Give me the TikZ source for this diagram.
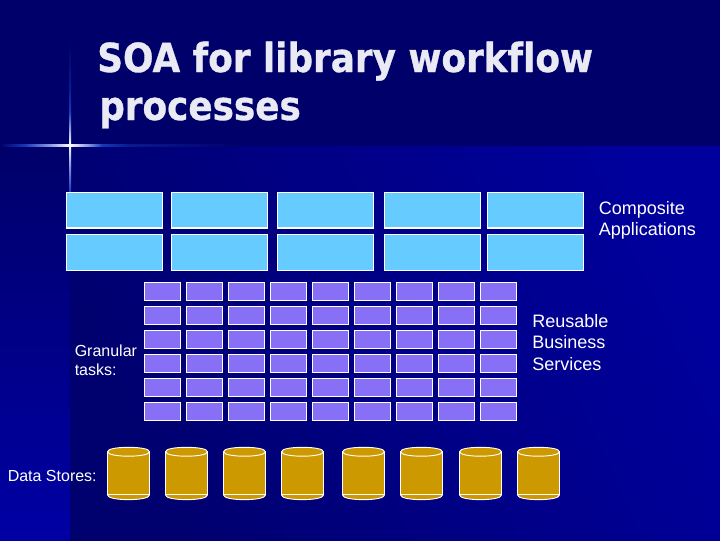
\documentclass[tikz,border=0pt]{standalone}
\usepackage{fontspec}
\setmainfont{Liberation Sans}
\newfontfamily\titlefont[FakeStretch=0.895,FakeBold=0.8,Ligatures=NoCommon]{DejaVu Sans Bold}
\definecolor{bandc}{HTML}{00006A}
\definecolor{brightc}{HTML}{00009C}
\definecolor{darkc}{HTML}{00006E}
\definecolor{stripc}{HTML}{0000A4}
\definecolor{lightbox}{HTML}{66CCFF}
\definecolor{purplebox}{HTML}{8870F6}
\definecolor{goldc}{HTML}{CC9900}
\definecolor{titlec}{HTML}{EAEAF4}
\definecolor{glowa}{HTML}{1838B8}
\definecolor{glowb}{HTML}{8898E4}
\definecolor{glowc}{HTML}{0A1A90}
\tikzset{
  x=0.75pt,y=-0.75pt,
  bluebox/.style={draw=white,line width=0.8pt,fill=lightbox,inner sep=0pt,outer sep=0pt,minimum width=71.8pt,minimum height=26.5pt},
  taskbox/.style={draw=white,line width=0.8pt,fill=purplebox,inner sep=0pt,outer sep=0pt,minimum width=26.5pt,minimum height=13pt},
  bodytext/.style={text=white,anchor=base west,inner sep=0pt,font=\fontsize{13.5pt}{16pt}\selectfont},
  smalltext/.style={text=white,anchor=base west,inner sep=0pt,font=\fontsize{12pt}{14pt}\selectfont},
  titletext/.style={text=titlec,anchor=base west,inner sep=0pt,font=\titlefont\fontsize{30pt}{36pt}\selectfont},
  storeline/.style={draw=white,line width=0.7pt},
}
\begin{document}
\begin{tikzpicture}
\useasboundingbox (0,0) rectangle (720,540);
% background
\fill[bandc] (0,0) rectangle (720,146);
\shade[top color=bandc,bottom color=stripc] (0,146) rectangle (70,540);
\shade[shading=axis,left color=darkc,right color=brightc,shading angle=115] (70,146) rectangle (720,540);
% star
\shade[left color=bandc,right color=glowa] (0,144) rectangle (25,146);
\shade[left color=glowa,right color=glowb] (25,144) rectangle (50,146);
\shade[left color=glowb,right color=white] (50,144) rectangle (70,146);
\shade[left color=white,right color=glowb] (70,144) rectangle (88,146);
\shade[left color=glowb,right color=glowa] (88,144) rectangle (102,146);
\shade[left color=glowa,right color=glowc] (102,144) rectangle (128,146);
\shade[left color=glowc,right color=bandc] (128,144) rectangle (240,146);
\shade[top color=bandc,bottom color=glowc] (69,40) rectangle (71,88);
\shade[top color=glowc,bottom color=glowa] (69,88) rectangle (71,112);
\shade[top color=glowa,bottom color=white] (69,112) rectangle (71,145);
\shade[top color=white,bottom color=glowb] (69,145) rectangle (71,165);
\shade[top color=glowb,bottom color=glowa] (69,165) rectangle (71,192);
% title
\node[titletext] (title1) at (97,72) {SOA for library workflow};
\node[titletext] (title2) at (99,120) {processes};
% composite applications
\foreach \cx [count=\c] in {114.5,219.5,325.5,432.5,535.5}
  \foreach \cy [count=\r] in {210.3,252.5}
    \node[bluebox] (app\r-\c) at (\cx,\cy) {};
% services
\foreach \c in {0,...,8}
  \foreach \r in {0,...,5}
    \node[taskbox] (task\r-\c) at ({162.5+42*\c},{291.5+24*\r}) {};
% data stores
\foreach \sx [count=\s] in {107,165,223,281,342,400,459,517} {
  \node[inner sep=0pt,outer sep=0pt,minimum width=32pt,minimum height=39pt] (store\s) at ({\sx+21.5},473.5) {};
  \begin{scope}[shift={(\sx,0)}]
    \path[fill=goldc,storeline] (0.5,451.7) .. controls (0.5,445.8) and (42.5,445.8) .. (42.5,451.7)
      -- (42.5,495) .. controls (42.5,501.2) and (0.5,501.2) .. (0.5,495) -- cycle;
    \draw[storeline] (0.5,451.7) .. controls (0.5,457.7) and (42.5,457.7) .. (42.5,451.7);
    \draw[storeline] (0.5,494.5) -- (42.5,494.5);
  \end{scope}
}
% labels
\node[bodytext] (ca1) at (598.5,214) {Composite};
\node[bodytext] (ca2) at (598.5,235) {Applications};
\node[bodytext] (rb1) at (532,327.5) {Reusable};
\node[bodytext] (rb2) at (532,348.5) {Business};
\node[bodytext] (rb3) at (532,370.5) {Services};
\node[smalltext] (gt1) at (74.5,356) {Granular};
\node[smalltext] (gt2) at (74.5,375) {tasks:};
\node[smalltext] (ds) at (7.5,481) {Data Stores:};
\end{tikzpicture}
\end{document}
